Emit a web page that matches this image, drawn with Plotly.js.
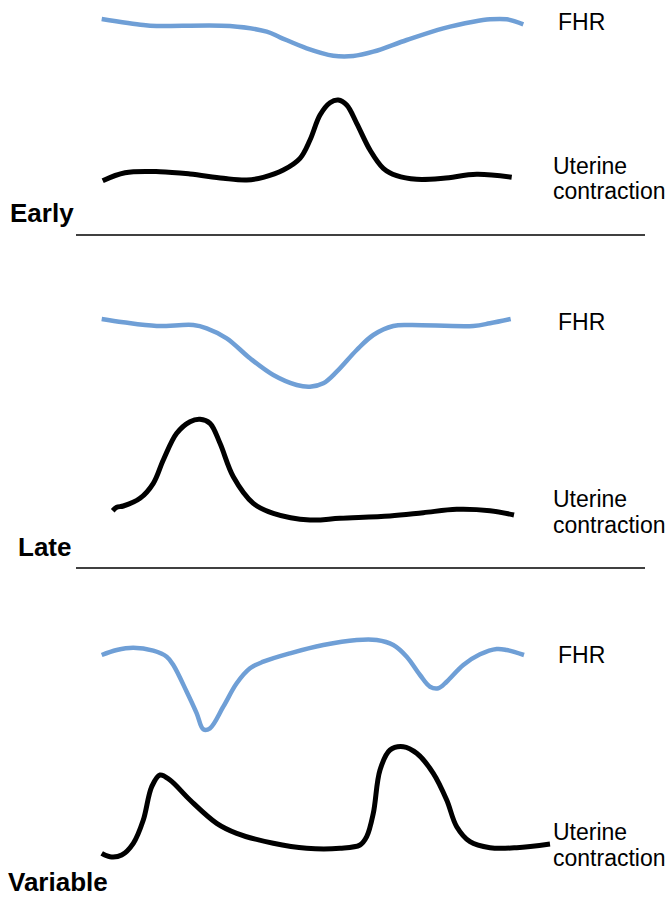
<!DOCTYPE html>
<html>
<head>
<meta charset="utf-8">
<script src="https://cdn.plot.ly/plotly-3.0.1.min.js"></script>
<style>html,body{margin:0;padding:0;background:#fff;}#chart{width:671px;height:898px;}</style>
</head>
<body>
<div id="chart"></div>
<script>
// Curves (x: time position, y: vertical position on page scale, downward)
const earlyFhrX = [101.7,143.3,156.7,230,266.7,280,306.7,333.3,353.3,373.3,406.7,443.3,473.3,490,506.7,523.3];
const earlyFhrY = [19,25,26,26,31.7,37.3,48.3,55.7,56,51.7,40,28.3,21.7,19.3,19.3,24.3];
const earlyUcX = [102.7,125,160,190,223.3,246.7,263.3,283.3,300,310,320,330,338.3,346.7,356.7,370,383.3,396.7,416.7,443.3,476.7,511.7];
const earlyUcY = [180.7,172.7,171.7,174,178.3,180,177.3,170,158.3,140,115,102.7,100,105,123.3,150,168.3,175.7,179.3,178.3,174.3,177.3];

const lateFhrX = [101.7,123.3,156.7,193.3,206.7,226.7,250,273.3,296.7,310,323.3,336.7,356.7,373.3,393.3,410,473.3,490,510.7];
const lateFhrY = [319,322.3,326,325,328.3,338.3,358.3,375,385,386.7,383.3,371.7,350,335,326,325,326,323.3,319];
const lateUcX = [112.7,116.7,123.3,140,153.3,163.3,176.7,190,200,210,220,233.3,253.3,273.3,310,340,390,423.3,456.7,490,514];
const lateUcY = [510.7,507.3,506,498.3,483.3,460,433.3,421.7,419.3,423.3,443.3,476.7,503.3,513.3,520,518.3,516,512.7,509.3,510.7,515];

const varFhrX = [101.7,116.7,133.3,153.3,166.7,173.3,186.7,196.7,203.3,210,223.3,236.7,250,263.3,290,323.3,356.7,376.7,393.3,406.7,420,430,438.3,446.7,463.3,480,496.7,506.7,524];
const varFhrY = [655,650,647.7,650.7,656.7,665,691.7,713.3,729.3,728.3,706.7,683.3,668.3,661.7,653.3,645,640,640,645,656.7,675,686.7,688.3,681.7,665,654.3,649,650,655];
const varUcX = [101.7,110,121.7,133.3,143.3,151.7,160,170,190,216.7,236.7,273.3,306.7,340,360,366.7,373.3,380,390,403.3,416.7,433.3,446.7,456.7,470,490,516.7,550];
const varUcY = [853.3,856.7,855,843.3,820,786.7,775,780,800,823.3,833.3,843.3,848.3,848.3,845,836.7,813.3,770,750,746.7,753.3,773.3,800,826.7,841.7,847.7,847.7,844];

const panelNames = ["Early","Late","Variable"];
const fhrLabel = "FHR";
const ucLabel = ["Uterine","contraction"];
const separatorY = [235, 568];

const blue = "#6f9fd6";
function curve(x, y, color, w) {
  return {x: x, y: y, type: "scatter", mode: "lines", hoverinfo: "skip",
          line: {color: color, width: w, shape: "spline", smoothing: 1}};
}
const data = [
  curve(earlyFhrX, earlyFhrY, blue, 4.5),
  curve(earlyUcX, earlyUcY, "#000", 5),
  curve(lateFhrX, lateFhrY, blue, 4.5),
  curve(lateUcX, lateUcY, "#000", 5),
  curve(varFhrX, varFhrY, blue, 4.5),
  curve(varUcX, varUcY, "#000", 5)
];

const regFont = {family: "Liberation Sans, Arial, sans-serif", size: 23, color: "#000"};
const boldFont = {family: "Liberation Sans, Arial, sans-serif", size: 26, color: "#000", weight: "bold"};
function txt(x, y, t, f) {
  return {x: x, y: y, xref: "x", yref: "y", text: t, showarrow: false, xanchor: "left", yanchor: "middle", font: f};
}
const annotations = [
  txt(8, 213, "<b>" + panelNames[0] + "</b>", boldFont),
  txt(16, 547, "<b>" + panelNames[1] + "</b>", boldFont),
  txt(6, 882, "<b>" + panelNames[2] + "</b>", boldFont),
  txt(556, 22, fhrLabel, regFont),
  txt(556, 322, fhrLabel, regFont),
  txt(556, 655, fhrLabel, regFont),
  txt(551, 166, ucLabel[0], regFont), txt(551, 191, ucLabel[1], regFont),
  txt(551, 499, ucLabel[0], regFont), txt(551, 525, ucLabel[1], regFont),
  txt(551, 832, ucLabel[0], regFont), txt(551, 858, ucLabel[1], regFont)
];
const shapes = separatorY.map(function (yy) {
  return {type: "line", xref: "x", yref: "y", x0: 76, x1: 645, y0: yy, y1: yy, line: {color: "#000", width: 1.3}};
});

const layout = {
  width: 671, height: 898,
  margin: {l: 0, r: 0, t: 0, b: 0},
  paper_bgcolor: "#fff", plot_bgcolor: "#fff",
  showlegend: false,
  xaxis: {range: [0, 671], visible: false, fixedrange: true},
  yaxis: {range: [898, 0], visible: false, fixedrange: true},
  annotations: annotations,
  shapes: shapes
};
Plotly.newPlot("chart", data, layout, {staticPlot: true, displayModeBar: false});
</script>
</body>
</html>
